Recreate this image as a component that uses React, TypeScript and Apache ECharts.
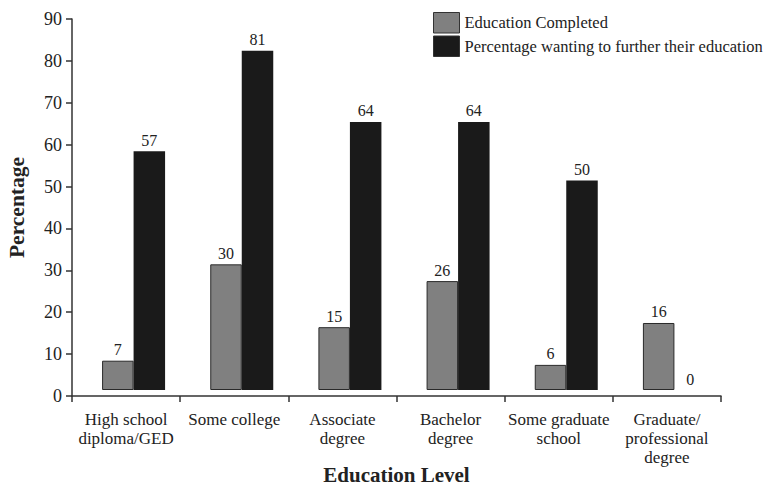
import React, { useEffect, useRef } from "react";
import * as echarts from "echarts";

const categories = [
  "High school\ndiploma/GED",
  "Some college",
  "Associate\ndegree",
  "Bachelor\ndegree",
  "Some graduate\nschool",
  "Graduate/\nprofessional\ndegree",
];
const completed = [7, 30, 15, 26, 6, 16];
const furtherEducation = [57, 81, 64, 64, 50, 0];
const seriesNames = ["Education Completed", "Percentage wanting to further their education"];
const yTicks = { min: 0, max: 90, interval: 10 };

const FONT = "'Liberation Serif', 'Times New Roman', Times, serif";
const TXT = "#222";
const AX = "#333";

export default function App() {
  const ref = useRef<HTMLDivElement>(null);
  useEffect(() => {
    if (!ref.current) return;
    const chart = echarts.init(ref.current, null, { renderer: "svg" });
    const gridA = { left: 72, top: 19, width: 649, height: 377 };
    const gridB = { left: 79.5, top: 19, width: 649, height: 377 };
    chart.setOption({
      animation: false,
      backgroundColor: "#fff",
      legend: {
        orient: "vertical",
        left: 433,
        top: 12,
        padding: 0,
        icon: "rect",
        itemWidth: 26,
        itemHeight: 20.5,
        itemGap: 2,
        itemTextGap: 5,
        selectedMode: false,
        itemStyle: { borderColor: "#333", borderWidth: 1 },
        textStyle: { fontFamily: FONT, fontSize: 16.5, color: TXT },
        data: seriesNames,
      },
      grid: [
        { ...gridA, containLabel: false, outerBoundsMode: "none" },
        { ...gridB, containLabel: false, outerBoundsMode: "none" },
      ],
      xAxis: [
        {
          type: "category",
          gridIndex: 0,
          data: categories,
          boundaryGap: true,
          axisLine: { show: true, lineStyle: { color: AX, width: 1.5 } },
          axisTick: { show: true, length: 6, lineStyle: { color: AX, width: 1.5 } },
          axisLabel: {
            show: true,
            interval: 0,
            margin: 14,
            fontFamily: FONT,
            fontSize: 17,
            lineHeight: 19,
            color: TXT,
          },
          name: "Education Level",
          nameLocation: "middle",
          nameGap: 70,
          nameMoveOverlap: false,
          nameTextStyle: {
            fontFamily: FONT,
            fontSize: 21,
            lineHeight: 17,
            fontWeight: "bold",
            color: TXT,
          },
        },
        {
          type: "category",
          gridIndex: 1,
          data: categories,
          boundaryGap: true,
          show: false,
        },
      ],
      yAxis: [
        {
          type: "value",
          gridIndex: 0,
          min: yTicks.min,
          max: yTicks.max,
          interval: yTicks.interval,
          splitLine: { show: false },
          axisLine: { show: true, lineStyle: { color: AX, width: 1.5 } },
          axisTick: { show: true, length: 6, lineStyle: { color: AX, width: 1.5 } },
          axisLabel: { margin: 10, fontFamily: FONT, fontSize: 18, color: TXT },
          name: "Percentage",
          nameLocation: "middle",
          nameGap: 44,
          nameRotate: 90,
          nameMoveOverlap: false,
          nameTextStyle: { fontFamily: FONT, fontSize: 21.5, fontWeight: "bold", color: TXT },
        },
        {
          type: "value",
          gridIndex: 1,
          min: -1.43,
          max: 88.57,
          show: false,
          splitLine: { show: false },
        },
      ],
      series: [
        {
          name: seriesNames[0],
          type: "bar",
          xAxisIndex: 1,
          yAxisIndex: 1,
          data: completed,
          barWidth: 31.5,
          barGap: "0%",
          itemStyle: { color: "#808080", borderColor: "#2a2a2a", borderWidth: 1 },
          label: {
            show: true,
            position: "top",
            distance: 3,
            fontFamily: FONT,
            fontSize: 16,
            color: TXT,
          },
        },
        {
          name: seriesNames[1],
          type: "bar",
          xAxisIndex: 1,
          yAxisIndex: 1,
          data: furtherEducation,
          barWidth: 31.5,
          barGap: "0%",
          itemStyle: { color: "#1a1a1a", borderWidth: 0 },
          label: {
            show: true,
            position: "top",
            distance: 3,
            fontFamily: FONT,
            fontSize: 16,
            color: TXT,
          },
        },
      ],
    });
    return () => chart.dispose();
  }, []);
  return (
    <div
      ref={ref}
      style={{ position: "fixed", left: 0, top: 0, width: 763, height: 488, background: "#fff" }}
    />
  );
}
